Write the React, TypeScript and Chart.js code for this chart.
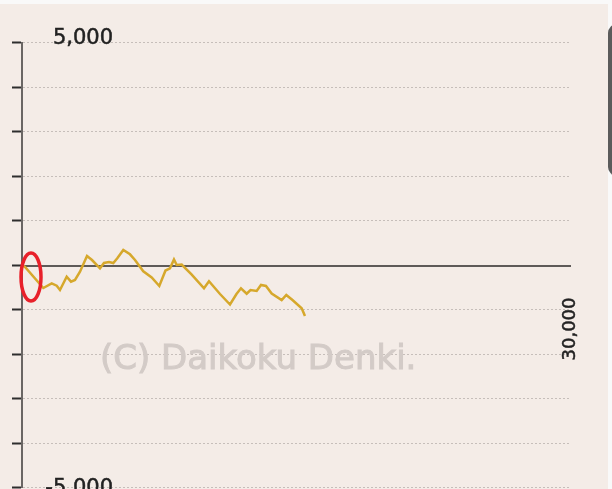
import React, { useEffect, useRef } from 'react';
import { Chart, registerables } from 'chart.js';

Chart.register(...registerables);

// games played (x) and medal difference (y)
const games = [
  0, 164, 1164, 1623, 1896, 2076, 2442, 2677, 2896, 3169, 3552, 3825, 4262, 4480, 4754, 4989,
  5207, 5535, 5901, 6175, 6628, 7087, 7502, 7841, 8087, 8305, 8453, 8726, 9262, 9945, 10218,
  10820, 11366, 11720, 11966, 12278, 12485, 12824, 13059, 13332, 13644, 14190, 14442, 14780,
  15283, 15463,
];
const diff = [
  0, -45, -517, -411, -465, -562, -263, -375, -337, -151, 202, 112, -74, 45, 67, 45,
  151, 337, 240, 112, -142, -281, -472, -124, -74, 124, 0, 11, -213, -524, -366,
  -652, -888, -652, -524, -645, -562, -584, -449, -472, -640, -787, -674, -787,
  -973, -1146,
];

const X_MIN = 0;
const X_MAX = 30000;
const Y_MIN = -5000;
const Y_MAX = 5000;
const Y_STEP = 1000;

const topLabel = '5,000';
const bottomLabel = '-5,000';
const xMaxLabel = '30,000';
const watermark = '(C) Daikoku Denki.';
const nextLabel = 'NEXT';

const FONT = '"DejaVu Sans", Verdana, sans-serif';

const decoPlugin = {
  id: 'deco',
  beforeDraw(chart: any) {
    const { ctx, width, height } = chart;
    ctx.save();
    ctx.fillStyle = '#f9f9f9';
    ctx.fillRect(0, 0, width, height);
    ctx.fillStyle = '#f4ece7';
    ctx.fillRect(0, 4, 608, height - 4);
    ctx.restore();
  },
  beforeDatasetsDraw(chart: any) {
    const { ctx, chartArea, scales } = chart;
    const y0 = scales.y.getPixelForValue(0);
    ctx.save();
    // watermark
    ctx.fillStyle = '#d3cbc7';
    ctx.strokeStyle = '#d3cbc7';
    ctx.lineWidth = 1;
    ctx.font = `34px ${FONT}`;
    ctx.textAlign = 'left';
    ctx.textBaseline = 'middle';
    ctx.fillText(watermark, 100, 360);
    ctx.strokeText(watermark, 100, 360);
    // zero line
    ctx.strokeStyle = '#5e5a58';
    ctx.lineWidth = 2;
    ctx.beginPath();
    ctx.moveTo(chartArea.left, y0 + 1);
    ctx.lineTo(chartArea.right, y0 + 1);
    ctx.stroke();
    ctx.restore();
  },
  afterDraw(chart: any) {
    const { ctx, scales } = chart;
    const yTop = scales.y.getPixelForValue(Y_MAX);
    const yBot = scales.y.getPixelForValue(Y_MIN);
    const xRight = scales.x.getPixelForValue(X_MAX);
    const y0 = scales.y.getPixelForValue(0);
    ctx.save();
    ctx.fillStyle = '#222';
    ctx.strokeStyle = '#222';
    ctx.lineWidth = 0.5;
    ctx.font = `21px ${FONT}`;
    ctx.textAlign = 'right';
    ctx.textBaseline = 'middle';
    ctx.fillText(topLabel, 113, yTop - 4);
    ctx.strokeText(topLabel, 113, yTop - 4);
    ctx.fillText(bottomLabel, 113, yBot + 1);
    ctx.strokeText(bottomLabel, 113, yBot + 1);

    // x max label, rotated
    ctx.save();
    ctx.translate(xRight - 1, y0 + 64);
    ctx.rotate(-Math.PI / 2);
    ctx.font = `18px ${FONT}`;
    ctx.textAlign = 'center';
    ctx.textBaseline = 'middle';
    ctx.fillText(xMaxLabel, 0, 0);
    ctx.strokeText(xMaxLabel, 0, 0);
    ctx.restore();

    // red ellipse marker
    ctx.strokeStyle = '#e8202a';
    ctx.lineWidth = 3.5;
    ctx.beginPath();
    ctx.ellipse(31, 277, 10, 24, 0, 0, Math.PI * 2);
    ctx.stroke();

    // NEXT button (partially visible)
    const bx = 608, by = 24, bw = 34, bh = 152, r = 9;
    ctx.fillStyle = '#5b5b5b';
    ctx.beginPath();
    ctx.moveTo(bx + r, by);
    ctx.lineTo(bx + bw - r, by);
    ctx.arcTo(bx + bw, by, bx + bw, by + r, r);
    ctx.lineTo(bx + bw, by + bh - r);
    ctx.arcTo(bx + bw, by + bh, bx + bw - r, by + bh, r);
    ctx.lineTo(bx + r, by + bh);
    ctx.arcTo(bx, by + bh, bx, by + bh - r, r);
    ctx.lineTo(bx, by + r);
    ctx.arcTo(bx, by, bx + r, by, r);
    ctx.closePath();
    ctx.fill();
    ctx.save();
    ctx.translate(619, 102);
    ctx.rotate(Math.PI / 2);
    ctx.fillStyle = '#f4f4f4';
    ctx.font = `bold 22px ${FONT}`;
    ctx.textAlign = 'center';
    ctx.textBaseline = 'middle';
    ctx.fillText(nextLabel, 0, 0);
    ctx.restore();
    ctx.restore();
  },
};

export default function App() {
  const ref = useRef<HTMLCanvasElement | null>(null);
  useEffect(() => {
    if (!ref.current) return;
    const chart = new Chart(ref.current, {
      type: 'line',
      data: {
        datasets: [
          {
            data: games.map((g, i) => ({ x: g, y: diff[i] })),
            borderColor: '#d6a82c',
            borderWidth: 2.5,
            pointRadius: 0,
            tension: 0,
            fill: false,
          },
        ],
      },
      options: {
        animation: false,
        responsive: false,
        maintainAspectRatio: false,
        events: [],
        layout: { padding: { top: 42.5, bottom: 1.5, left: 0, right: 41 } },
        plugins: { legend: { display: false }, tooltip: { enabled: false } },
        scales: {
          x: { type: 'linear', min: X_MIN, max: X_MAX, display: false },
          y: {
            type: 'linear',
            min: Y_MIN,
            max: Y_MAX,
            ticks: { stepSize: Y_STEP, display: false },
            grid: {
              color: '#c6beba',
              lineWidth: 1,
              drawTicks: true,
              tickLength: 10,
              tickColor: '#2e2e2e',
              tickWidth: 2,
              tickBorderDash: [],
            },
            border: { display: true, color: '#6a6664', width: 2, dash: [2, 2] },
            afterFit: (s: any) => {
              s.width = 22;
            },
          },
        },
      },
      plugins: [decoPlugin],
    } as any);
    return () => chart.destroy();
  }, []);
  return (
    <canvas
      ref={ref}
      width={612}
      height={489}
      style={{ position: 'fixed', left: 0, top: 0, width: 612, height: 489, display: 'block' }}
    />
  );
}
